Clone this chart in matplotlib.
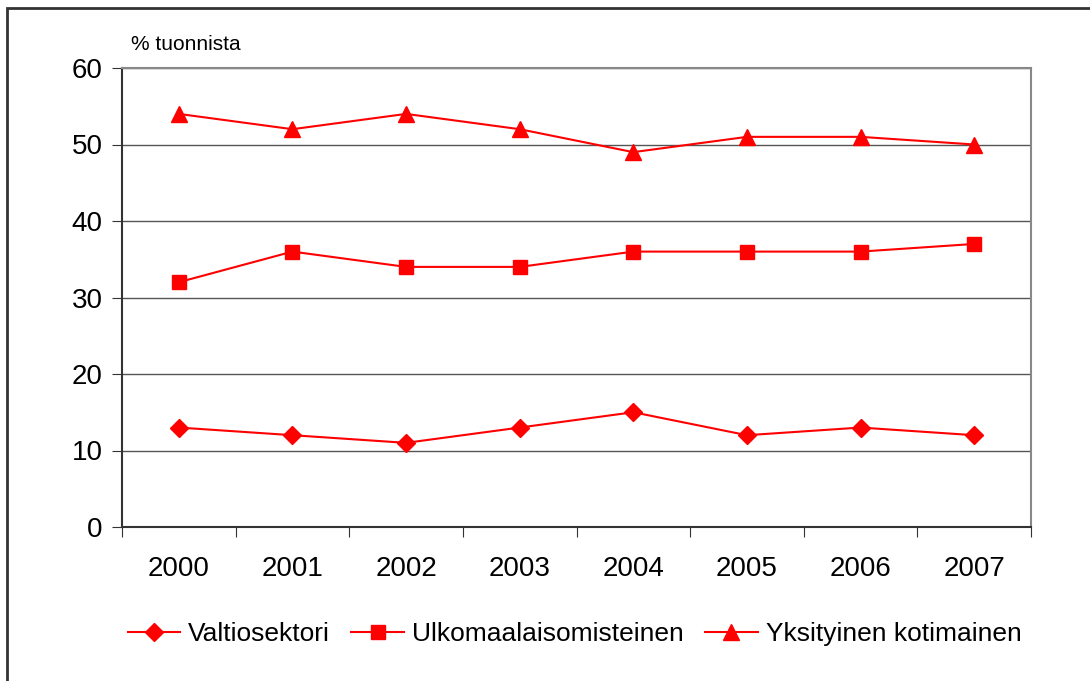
import matplotlib.pyplot as plt
from matplotlib.patches import Rectangle

plt.rcParams['font.family'] = ['Liberation Sans', 'DejaVu Sans']

years = ['2000', '2001', '2002', '2003', '2004', '2005', '2006', '2007']
valtio = [13, 12, 11, 13, 15, 12, 13, 12]
ulkomaa = [32, 36, 34, 34, 36, 36, 36, 37]
yksityinen = [54, 52, 54, 52, 49, 51, 51, 50]

fig = plt.figure(figsize=(10.9, 6.81), dpi=100)
W, H = 1090, 681
ax = fig.add_axes([122 / W, 1 - 527 / H, (1031 - 122) / W, (527 - 68) / H])

# outer chart border (cut off on right/bottom like the original)
fig.patches.append(Rectangle((7 / W, -0.05), 1.1, 1 - 8 / H + 0.05,
                             transform=fig.transFigure, fill=False,
                             edgecolor='#333333', linewidth=2))

x = list(range(len(years)))
red = '#ff0000'
ax.plot(x, valtio, color=red, lw=1.5, marker='D', ms=9, label='Valtiosektori')
ax.plot(x, ulkomaa, color=red, lw=1.5, marker='s', ms=9.5, label='Ulkomaalaisomisteinen')
ax.plot(x, yksityinen, color=red, lw=1.5, marker='^', ms=11, label='Yksityinen kotimainen')

ax.set_xlim(-0.5, len(years) - 0.5)
ax.set_ylim(0, 60)
ax.set_yticks(range(0, 61, 10))
ax.set_xticks([i - 0.5 for i in range(len(years) + 1)])
ax.set_xticklabels([])
ax.set_xticks(x, minor=True)
ax.set_xticklabels(years, minor=True)
ax.tick_params(axis='x', which='minor', length=0, pad=21, labelsize=20)
ax.tick_params(axis='x', which='major', length=7, direction='out', color='#333333')
ax.tick_params(axis='y', length=7, direction='out', labelsize=20, pad=7, color='#333333')

for y in range(10, 61, 10):
    ax.axhline(y, color='#555555', lw=1, zorder=0)

ax.spines['left'].set_color('#333333')
ax.spines['bottom'].set_color('#333333')
ax.spines['left'].set_linewidth(1.5)
ax.spines['bottom'].set_linewidth(1.5)
ax.spines['top'].set_color('#888888')
ax.spines['right'].set_color('#888888')
ax.spines['top'].set_linewidth(1.5)
ax.spines['right'].set_linewidth(1.5)

fig.text(131 / W, 1 - 45 / H, '% tuonnista', fontsize=15, va='center', ha='left')

fig.legend(loc='center', bbox_to_anchor=(0.527, 1 - 634 / H), ncol=3,
           frameon=False, fontsize=19, handlelength=2.0, columnspacing=0.8,
           handletextpad=0.3)

fig.savefig('out.png', dpi=100)
